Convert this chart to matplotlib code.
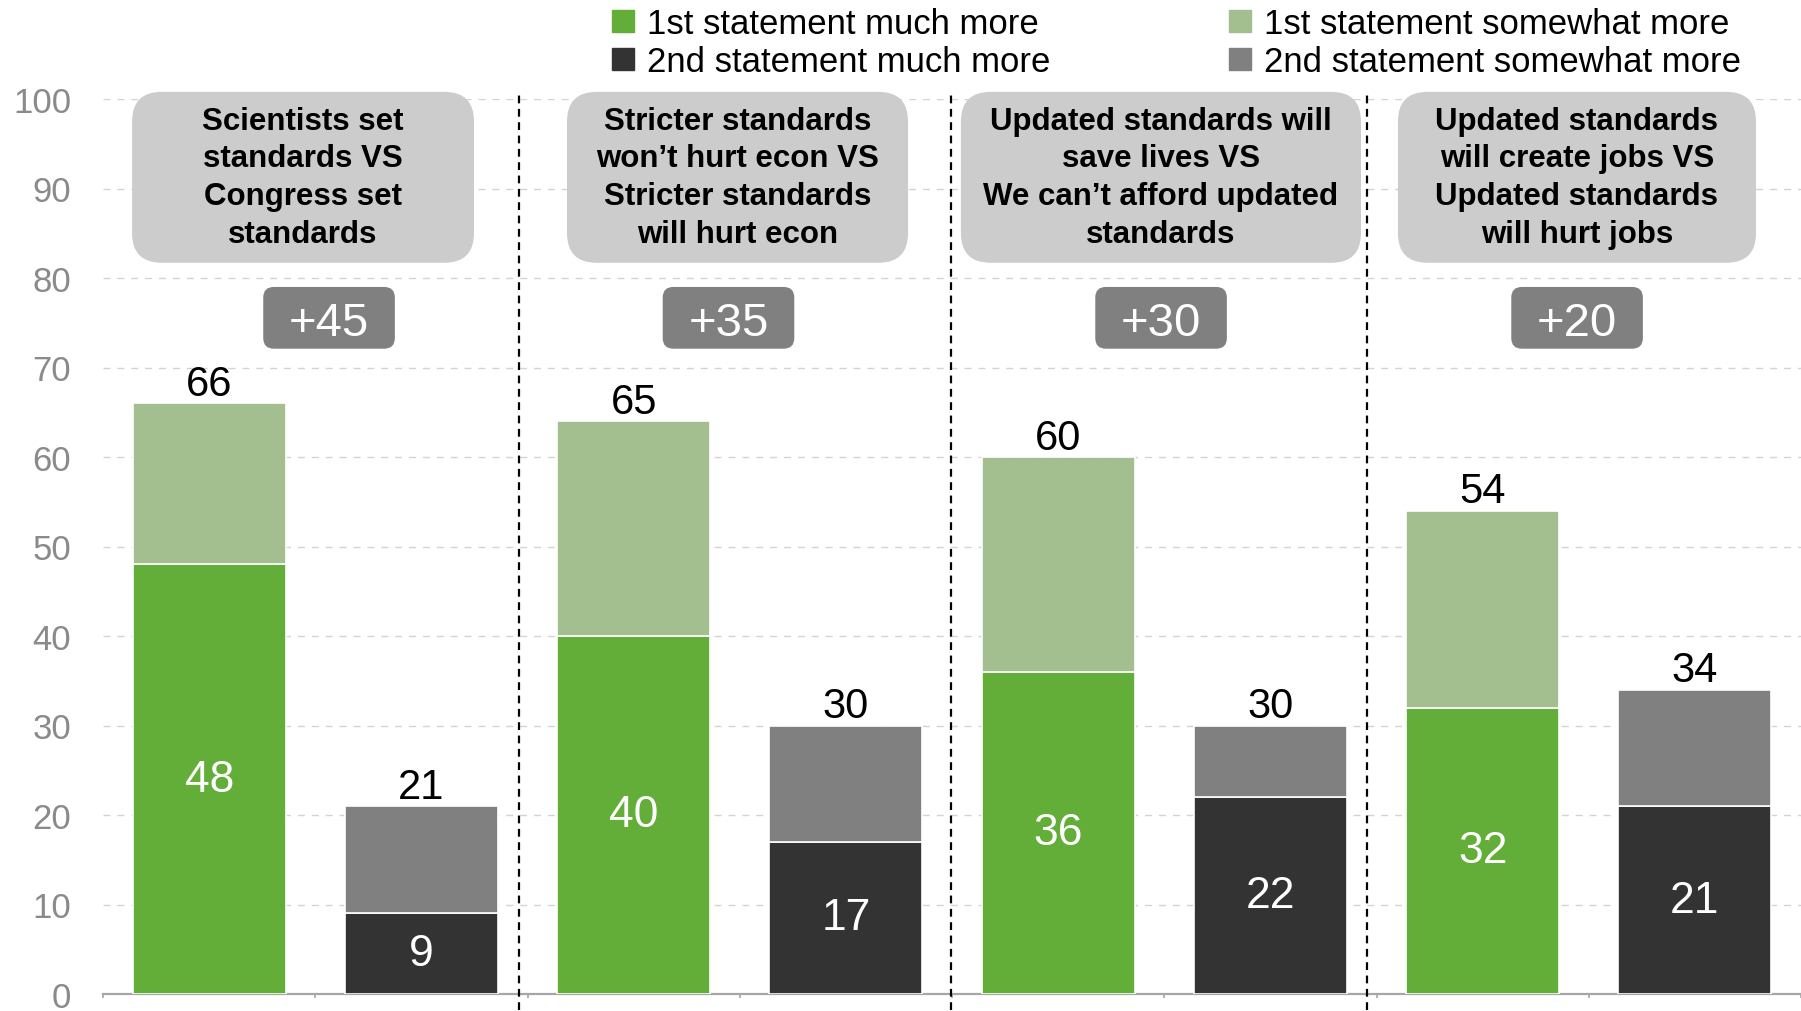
import numpy as np
import matplotlib
matplotlib.use('Agg')
import matplotlib.pyplot as plt
from matplotlib.patches import FancyBboxPatch, Patch

plt.rcParams['font.family'] = ['Liberation Sans', 'DejaVu Sans']

# data
headers = ['Scientists set\nstandards VS\nCongress set\nstandards',
           'Stricter standards\nwon\u2019t hurt econ VS\nStricter standards\nwill hurt econ',
           'Updated standards will\nsave lives VS\nWe can\u2019t afford updated\nstandards',
           'Updated standards\nwill create jobs VS\nUpdated standards\nwill hurt jobs']
net_labels = ['+45', '+35', '+30', '+20']
first_much = [48, 40, 36, 32]
first_some = [18, 24, 24, 22]
second_much = [9, 17, 22, 21]
second_some = [12, 13, 8, 13]
first_total = [66, 65, 60, 54]
second_total = [21, 30, 30, 34]
legend_labels = ['1st statement much more', '2nd statement much more',
                 '1st statement somewhat more', '2nd statement somewhat more']

GREEN = '#63AD39'
LGREEN = '#A3BF90'
DARK = '#333333'
GRAY = '#808080'
BOXGRAY = '#CCCCCC'
TICKGRAY = '#8A8A8A'

W, H = 1801, 1012
fig = plt.figure(figsize=(W / 100, H / 100), dpi=100)
ax = fig.add_axes([103 / W, 17 / H, 1698 / W, 895 / H])

n = len(first_much)
x1 = np.arange(n) * 2
x2 = x1 + 1
bw = 0.72

ax.bar(x1, first_much, bw, color=GREEN, edgecolor='white', lw=1.2, zorder=3)
ax.bar(x1, first_some, bw, bottom=first_much, color=LGREEN, edgecolor='white', lw=1.2, zorder=3)
ax.bar(x2, second_much, bw, color=DARK, edgecolor='white', lw=1.2, zorder=3)
ax.bar(x2, second_some, bw, bottom=second_much, color=GRAY, edgecolor='white', lw=1.2, zorder=3)

# value labels
for i in range(n):
    ax.text(x1[i], first_much[i] / 2, str(first_much[i]), ha='center', va='center',
            color='white', fontsize=32, zorder=5)
    ax.text(x2[i], second_much[i] / 2, str(second_much[i]), ha='center', va='center',
            color='white', fontsize=32, zorder=5)
    ax.annotate(str(first_total[i]), (x1[i], first_much[i] + first_some[i]),
                xytext=(0, 6), textcoords='offset points', ha='center', va='baseline',
                fontsize=30, zorder=5)
    ax.annotate(str(second_total[i]), (x2[i], second_much[i] + second_some[i]),
                xytext=(0, 6), textcoords='offset points', ha='center', va='baseline',
                fontsize=30, zorder=5)

# header boxes and net difference boxes
aspect = (1698 / 8) / (895 / 100)
head_left = [-0.363, 1.686, 3.542, 5.601]
head_width = [1.611, 1.607, 1.885, 1.687]
head_bottom, head_height = 81.7, 19.1
for i in range(n):
    ax.add_patch(FancyBboxPatch((head_left[i], head_bottom), head_width[i], head_height,
                                boxstyle='round,pad=0,rounding_size=0.14',
                                mutation_aspect=aspect, fc=BOXGRAY, ec='none',
                                clip_on=False, zorder=4))
    ax.text(head_left[i] + head_width[i] / 2, head_bottom + head_height / 2, headers[i],
            ha='center', va='center', fontsize=22.5, fontweight='bold',
            linespacing=1.34, zorder=5)

net_center = [0.565, 2.447, 4.485, 6.445]
net_w, net_bottom, net_h = 0.62, 72.1, 6.9
for i in range(n):
    ax.add_patch(FancyBboxPatch((net_center[i] - net_w / 2, net_bottom), net_w, net_h,
                                boxstyle='round,pad=0,rounding_size=0.05',
                                mutation_aspect=aspect, fc=GRAY, ec='none',
                                clip_on=False, zorder=4))
    ax.text(net_center[i], net_bottom + net_h / 2, net_labels[i], ha='center',
            va='center_baseline', color='white', fontsize=34, zorder=5)

# dashed separators between the pairs
for xs in [1.46, 3.495, 5.455]:
    ax.plot([xs, xs], [-1.8, 100.6], color='black', lw=1.6, ls=(0, (3.5, 2.5)),
            clip_on=False, zorder=6)

ax.set_xlim(-0.5, 2 * n - 0.5)
ax.set_ylim(0, 100)
ax.set_yticks(range(0, 101, 10))
ax.set_xticks(np.arange(-0.5, 2 * n, 1))
ax.set_xticklabels([])
ax.tick_params(axis='y', length=0, pad=23, labelsize=25, labelcolor=TICKGRAY)
ax.tick_params(axis='x', length=3, width=1.2, color='#A6A6A6', direction='out')
for s in ['left', 'top', 'right']:
    ax.spines[s].set_visible(False)
ax.spines['bottom'].set_color('#A6A6A6')
ax.spines['bottom'].set_linewidth(1.6)
ax.set_axisbelow(True)
ax.yaxis.grid(True, color='#D3D3D3', lw=1.0, ls=(0, (5, 5)))

# legend, two columns placed separately
h1 = [Patch(color=GREEN), Patch(color=DARK)]
h2 = [Patch(color=LGREEN), Patch(color=GRAY)]
common = dict(loc='upper left', frameon=False, fontsize=25, handlelength=0.62,
              handleheight=0.62, handletextpad=0.4, labelspacing=0.15,
              borderpad=0, borderaxespad=0)
fig.legend(h1, legend_labels[:2], bbox_to_anchor=(612 / W, 1 - 8 / H), **common)
fig.legend(h2, legend_labels[2:], bbox_to_anchor=(1229 / W, 1 - 8 / H), **common)

fig.savefig('out.png', dpi=100)
